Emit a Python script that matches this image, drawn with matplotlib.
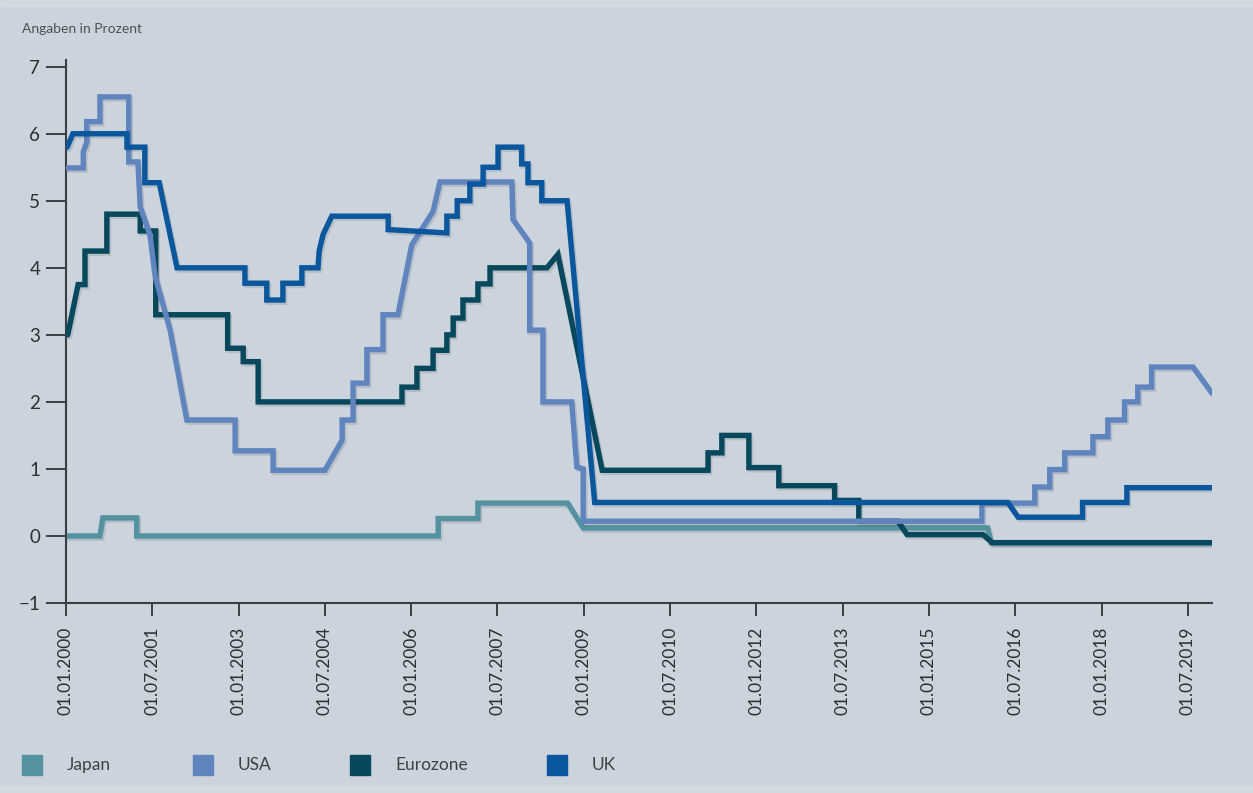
import matplotlib
matplotlib.use("Agg")
import matplotlib.pyplot as plt
import matplotlib.patheffects as pe
from matplotlib.patches import Rectangle

plt.rcParams['font.family'] = ['Lato', 'DejaVu Sans']

# x values are decimal years, y values in percent
japan_x = [2000.0, 2000.59, 2000.64, 2001.23, 2001.23, 2006.47, 2006.47, 2007.16, 2007.16,
           2008.72, 2008.99, 2016.02, 2016.08, 2019.92]
japan_y = [0.0, 0.0, 0.27, 0.27, 0.0, 0.0, 0.26, 0.26, 0.49,
           0.49, 0.12, 0.12, -0.1, -0.1]

usa_x = [2000.02, 2000.30, 2000.30, 2000.36, 2000.36, 2000.59, 2000.59, 2001.09, 2001.09,
         2001.25, 2001.29, 2001.46, 2001.55, 2001.81, 2002.10, 2002.94, 2002.94, 2003.60,
         2003.60, 2004.50, 2004.80, 2004.80, 2004.99, 2004.99, 2005.23, 2005.23, 2005.51,
         2005.51, 2005.77, 2006.01, 2006.38, 2006.50, 2007.75, 2007.77, 2008.06, 2008.06,
         2008.29, 2008.29, 2008.79, 2008.88, 2008.99, 2008.99, 2015.92, 2015.92, 2016.84,
         2016.84, 2017.10, 2017.10, 2017.36, 2017.36, 2017.85, 2017.85, 2018.11, 2018.11,
         2018.40, 2018.40, 2018.63, 2018.63, 2018.87, 2018.87, 2019.59, 2019.92]
usa_y = [5.49, 5.49, 5.73, 5.87, 6.18, 6.18, 6.55, 6.55, 5.58,
         5.58, 4.91, 4.49, 3.87, 3.07, 1.73, 1.73, 1.27, 1.27,
         0.98, 0.98, 1.43, 1.73, 1.73, 2.28, 2.28, 2.78, 2.78,
         3.30, 3.30, 4.34, 4.84, 5.28, 5.28, 4.72, 4.37, 3.07,
         3.07, 2.0, 2.0, 1.03, 1.0, 0.22, 0.22, 0.49, 0.49,
         0.73, 0.73, 0.99, 0.99, 1.24, 1.24, 1.48, 1.48, 1.73,
         1.73, 2.0, 2.0, 2.22, 2.22, 2.52, 2.52, 2.13]

euro_x = [2000.03, 2000.21, 2000.33, 2000.33, 2000.71, 2000.71, 2001.29, 2001.29, 2001.56,
          2001.56, 2002.81, 2002.81, 2003.08, 2003.08, 2003.34, 2003.34, 2005.84, 2005.84,
          2006.10, 2006.10, 2006.38, 2006.38, 2006.62, 2006.62, 2006.73, 2006.73, 2006.90,
          2006.90, 2007.16, 2007.16, 2007.37, 2007.37, 2008.36, 2008.55, 2009.32, 2011.16,
          2011.16, 2011.40, 2011.40, 2011.87, 2011.87, 2012.39, 2012.39, 2013.36, 2013.36,
          2013.78, 2013.78, 2014.46, 2014.62, 2015.94, 2016.10, 2019.92]
euro_y = [3.0, 3.75, 3.75, 4.25, 4.25, 4.8, 4.8, 4.55, 4.55,
          3.3, 3.3, 2.8, 2.8, 2.6, 2.6, 2.0, 2.0, 2.22,
          2.22, 2.5, 2.5, 2.77, 2.77, 3.0, 3.0, 3.25, 3.25,
          3.52, 3.52, 3.76, 3.76, 4.0, 4.0, 4.2, 0.98, 0.98,
          1.24, 1.24, 1.5, 1.5, 1.02, 1.02, 0.75, 0.75, 0.53,
          0.53, 0.22, 0.22, 0.02, 0.02, -0.1, -0.1]

uk_x = [2000.02, 2000.12, 2001.06, 2001.06, 2001.37, 2001.37, 2001.62, 2001.93, 2003.11,
        2003.11, 2003.49, 2003.49, 2003.77, 2003.77, 2004.10, 2004.10, 2004.38, 2004.40,
        2004.47, 2004.62, 2005.60, 2005.60, 2006.62, 2006.62, 2006.80, 2006.80, 2007.02,
        2007.02, 2007.25, 2007.25, 2007.51, 2007.51, 2007.92, 2007.92, 2008.03, 2008.03,
        2008.27, 2008.27, 2008.71, 2009.19, 2016.37, 2016.55, 2017.67, 2017.67, 2018.44,
        2018.44, 2019.92]
uk_y = [5.8, 6.0, 6.0, 5.8, 5.8, 5.27, 5.27, 4.0, 4.0,
        3.77, 3.77, 3.52, 3.52, 3.77, 3.77, 4.0, 4.0, 4.25,
        4.5, 4.77, 4.77, 4.57, 4.52, 4.77, 4.77, 5.0, 5.0,
        5.25, 5.25, 5.5, 5.5, 5.8, 5.8, 5.55, 5.55, 5.27,
        5.27, 5.0, 5.0, 0.5, 0.5, 0.28, 0.28, 0.5, 0.5,
        0.72, 0.72]

names = ['Japan', 'USA', 'Eurozone', 'UK']
colors = ['#5592a0', '#6084be', '#07485c', '#0b579d']
z_order = [2, 4, 3, 5]

tick_pos = [2000 + 1.5 * i for i in range(14)]
tick_labels = ['01.01.2000', '01.07.2001', '01.01.2003', '01.07.2004', '01.01.2006',
               '01.07.2007', '01.01.2009', '01.07.2010', '01.01.2012', '01.07.2013',
               '01.01.2015', '01.07.2016', '01.01.2018', '01.07.2019']

W, H = 1253, 793
fig = plt.figure(figsize=(W / 100, H / 100), dpi=100, facecolor='#cbd3dc')
fig.patches.append(Rectangle((0, 1 - 6 / H), 1, 6 / H, transform=fig.transFigure,
                             color='#d3d9e0', zorder=0))
fig.patches.append(Rectangle((0, 0), 1, 7 / H, transform=fig.transFigure,
                             color='#d3d9e0', zorder=0))

ax = fig.add_axes([66 / W, 1 - 603 / H, (1212 - 66) / W, (603 - 60) / H])
ax.set_facecolor('none')

shadow = [pe.SimpleLineShadow(offset=(1.2, -1.6), shadow_color='#1a2836', alpha=0.13),
          pe.Normal()]

data = [(japan_x, japan_y), (usa_x, usa_y), (euro_x, euro_y), (uk_x, uk_y)]
for (xs, ys), col, z in zip(data, colors, z_order):
    ax.plot(xs, ys, color=col, lw=3.9, solid_joinstyle='miter', solid_capstyle='round',
            zorder=z, path_effects=shadow)

ax.set_xlim(2000, 2019.92)
ax.set_ylim(-1, 7.1)

for s in ['top', 'right']:
    ax.spines[s].set_visible(False)
for s in ['left', 'bottom']:
    ax.spines[s].set_color('#3a3f45')
    ax.spines[s].set_linewidth(1.5)

ax.set_yticks(range(-1, 8))
ax.set_yticklabels(['\u22121'] + [str(v) for v in range(0, 8)])
ax.set_xticks(tick_pos)
ax.set_xticklabels(tick_labels, rotation=90)
ax.tick_params(axis='y', length=14.5, width=1.4, pad=4, labelsize=13.5,
               colors='#3a3f45', labelcolor='#2b3035')
ax.tick_params(axis='x', length=9, width=1.4, pad=8, labelsize=12.5,
               colors='#3a3f45', labelcolor='#2b3035')

fig.text(22 / W, 1 - 29 / H, 'Angaben in Prozent', fontsize=10, color='#4a5056',
         va='center', ha='left')

# legend
sq_x = [22, 193, 350, 547]
for name, col, sx in zip(names, colors, sq_x):
    fig.patches.append(Rectangle((sx / W, 1 - 775 / H), 20 / W, 20 / H,
                                 transform=fig.transFigure, color=col))
    fig.text((sx + 45) / W, 1 - 765 / H, name, fontsize=12.5, color='#3c4248',
             va='center', ha='left')

fig.savefig('out.png', dpi=100, facecolor=fig.get_facecolor())
